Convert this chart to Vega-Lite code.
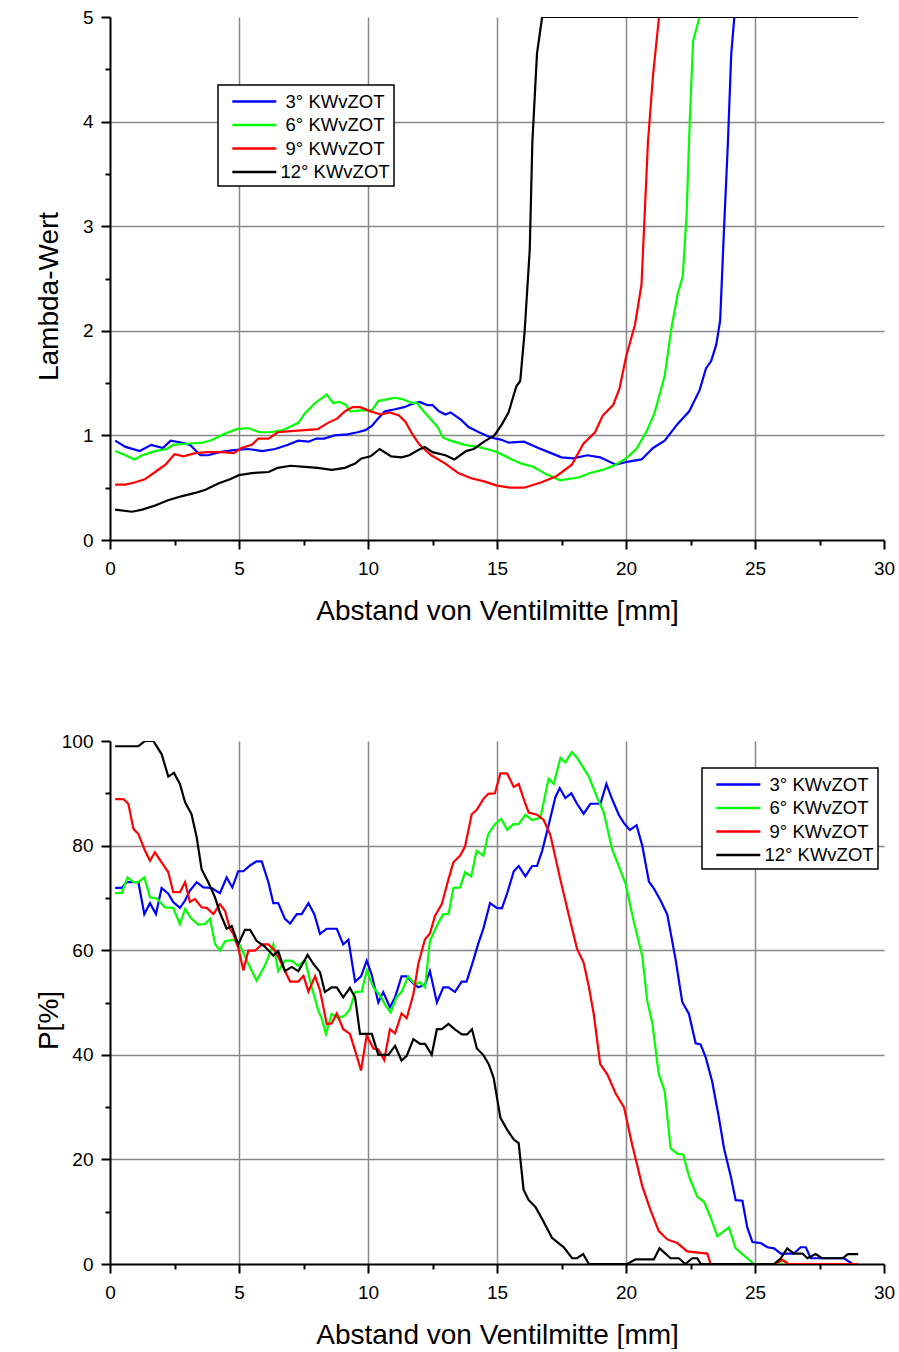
{
"$schema": "https://vega.github.io/schema/vega-lite/v6.json",
"background": "white",
"padding": {"left": 35, "top": 8, "right": 0, "bottom": 0},
"spacing": 107,
"config": {
  "view": {"stroke": null},
  "font": "Liberation Sans",
  "axis": {"domainColor": "black", "domainWidth": 2, "tickColor": "black", "tickWidth": 2, "grid": true, "gridColor": "#888888", "gridWidth": 1.5, "labelFont": "Liberation Sans", "labelFontSize": 19, "labelColor": "black", "titleFont": "Liberation Sans", "titleFontSize": 28, "titleFontWeight": "normal", "titleColor": "black", "labelOverlap": false, "labelFlush": false},
  "axisX": {"labelPadding": 10, "titlePadding": 19},
  "axisY": {"labelPadding": 8},
  "legend": {"orient": "none", "strokeColor": "black", "fillColor": "white", "padding": 4, "rowPadding": 1.5, "labelFont": "Liberation Sans", "labelFontSize": 18.5, "labelColor": "black", "labelAlign": "center", "symbolType": "M-0.2,0H3.8", "symbolSize": 484, "symbolStrokeWidth": 2.5, "labelOffset": 88, "cornerRadius": 0, "strokeWidth": 1.5}
},
"resolve": {"scale": {"color": "independent"}, "legend": {"color": "independent"}},
"datasets": {
"lambda": [
{"s":"3° KWvZOT","x":0.2,"y":0.95},{"s":"3° KWvZOT","x":0.6,"y":0.89},{"s":"3° KWvZOT","x":1.15,"y":0.85},{"s":"3° KWvZOT","x":1.6,"y":0.91},{"s":"3° KWvZOT","x":2.05,"y":0.88},{"s":"3° KWvZOT","x":2.35,"y":0.95},{"s":"3° KWvZOT","x":2.8,"y":0.93},{"s":"3° KWvZOT","x":3.1,"y":0.91},{"s":"3° KWvZOT","x":3.5,"y":0.81},{"s":"3° KWvZOT","x":3.8,"y":0.81},{"s":"3° KWvZOT","x":4.25,"y":0.84},{"s":"3° KWvZOT","x":4.8,"y":0.86},{"s":"3° KWvZOT","x":5.35,"y":0.87},{"s":"3° KWvZOT","x":5.9,"y":0.85},{"s":"3° KWvZOT","x":6.4,"y":0.87},{"s":"3° KWvZOT","x":6.9,"y":0.91},{"s":"3° KWvZOT","x":7.3,"y":0.95},{"s":"3° KWvZOT","x":7.7,"y":0.94},{"s":"3° KWvZOT","x":8.0,"y":0.97},{"s":"3° KWvZOT","x":8.3,"y":0.97},{"s":"3° KWvZOT","x":8.7,"y":1.0},{"s":"3° KWvZOT","x":9.2,"y":1.01},{"s":"3° KWvZOT","x":9.6,"y":1.03},{"s":"3° KWvZOT","x":9.9,"y":1.05},{"s":"3° KWvZOT","x":10.15,"y":1.09},{"s":"3° KWvZOT","x":10.35,"y":1.15},{"s":"3° KWvZOT","x":10.65,"y":1.23},{"s":"3° KWvZOT","x":11.05,"y":1.25},{"s":"3° KWvZOT","x":11.4,"y":1.27},{"s":"3° KWvZOT","x":11.7,"y":1.3},{"s":"3° KWvZOT","x":12.0,"y":1.32},{"s":"3° KWvZOT","x":12.3,"y":1.29},{"s":"3° KWvZOT","x":12.5,"y":1.29},{"s":"3° KWvZOT","x":12.75,"y":1.23},{"s":"3° KWvZOT","x":13.0,"y":1.2},{"s":"3° KWvZOT","x":13.2,"y":1.22},{"s":"3° KWvZOT","x":13.6,"y":1.15},{"s":"3° KWvZOT","x":13.9,"y":1.08},{"s":"3° KWvZOT","x":14.3,"y":1.03},{"s":"3° KWvZOT","x":14.75,"y":0.98},{"s":"3° KWvZOT","x":15.15,"y":0.96},{"s":"3° KWvZOT","x":15.45,"y":0.93},{"s":"3° KWvZOT","x":16.05,"y":0.94},{"s":"3° KWvZOT","x":16.6,"y":0.88},{"s":"3° KWvZOT","x":17.0,"y":0.84},{"s":"3° KWvZOT","x":17.5,"y":0.79},{"s":"3° KWvZOT","x":17.95,"y":0.78},{"s":"3° KWvZOT","x":18.5,"y":0.81},{"s":"3° KWvZOT","x":19.0,"y":0.79},{"s":"3° KWvZOT","x":19.6,"y":0.72},{"s":"3° KWvZOT","x":20.1,"y":0.75},{"s":"3° KWvZOT","x":20.6,"y":0.77},{"s":"3° KWvZOT","x":21.05,"y":0.88},{"s":"3° KWvZOT","x":21.5,"y":0.95},{"s":"3° KWvZOT","x":22.0,"y":1.11},{"s":"3° KWvZOT","x":22.45,"y":1.23},{"s":"3° KWvZOT","x":22.85,"y":1.43},{"s":"3° KWvZOT","x":23.1,"y":1.64},{"s":"3° KWvZOT","x":23.3,"y":1.71},{"s":"3° KWvZOT","x":23.5,"y":1.87},{"s":"3° KWvZOT","x":23.65,"y":2.1},{"s":"3° KWvZOT","x":23.8,"y":2.98},{"s":"3° KWvZOT","x":23.95,"y":3.8},{"s":"3° KWvZOT","x":24.08,"y":4.65},{"s":"3° KWvZOT","x":24.2,"y":5.0},
{"s":"6° KWvZOT","x":0.2,"y":0.85},{"s":"6° KWvZOT","x":0.6,"y":0.81},{"s":"6° KWvZOT","x":0.95,"y":0.77},{"s":"6° KWvZOT","x":1.25,"y":0.81},{"s":"6° KWvZOT","x":1.75,"y":0.85},{"s":"6° KWvZOT","x":2.2,"y":0.87},{"s":"6° KWvZOT","x":2.45,"y":0.91},{"s":"6° KWvZOT","x":2.95,"y":0.92},{"s":"6° KWvZOT","x":3.6,"y":0.93},{"s":"6° KWvZOT","x":4.0,"y":0.96},{"s":"6° KWvZOT","x":4.4,"y":1.01},{"s":"6° KWvZOT","x":4.9,"y":1.06},{"s":"6° KWvZOT","x":5.35,"y":1.07},{"s":"6° KWvZOT","x":5.8,"y":1.03},{"s":"6° KWvZOT","x":6.2,"y":1.03},{"s":"6° KWvZOT","x":6.7,"y":1.05},{"s":"6° KWvZOT","x":7.3,"y":1.12},{"s":"6° KWvZOT","x":7.55,"y":1.21},{"s":"6° KWvZOT","x":7.95,"y":1.31},{"s":"6° KWvZOT","x":8.4,"y":1.39},{"s":"6° KWvZOT","x":8.65,"y":1.31},{"s":"6° KWvZOT","x":8.9,"y":1.32},{"s":"6° KWvZOT","x":9.15,"y":1.29},{"s":"6° KWvZOT","x":9.3,"y":1.23},{"s":"6° KWvZOT","x":9.75,"y":1.24},{"s":"6° KWvZOT","x":10.15,"y":1.24},{"s":"6° KWvZOT","x":10.4,"y":1.33},{"s":"6° KWvZOT","x":10.65,"y":1.34},{"s":"6° KWvZOT","x":11.0,"y":1.36},{"s":"6° KWvZOT","x":11.3,"y":1.35},{"s":"6° KWvZOT","x":11.7,"y":1.31},{"s":"6° KWvZOT","x":11.9,"y":1.31},{"s":"6° KWvZOT","x":12.15,"y":1.23},{"s":"6° KWvZOT","x":12.45,"y":1.15},{"s":"6° KWvZOT","x":12.7,"y":1.08},{"s":"6° KWvZOT","x":12.9,"y":0.98},{"s":"6° KWvZOT","x":13.2,"y":0.95},{"s":"6° KWvZOT","x":13.75,"y":0.91},{"s":"6° KWvZOT","x":14.25,"y":0.89},{"s":"6° KWvZOT","x":14.75,"y":0.86},{"s":"6° KWvZOT","x":15.0,"y":0.84},{"s":"6° KWvZOT","x":15.5,"y":0.78},{"s":"6° KWvZOT","x":15.95,"y":0.73},{"s":"6° KWvZOT","x":16.4,"y":0.7},{"s":"6° KWvZOT","x":16.9,"y":0.63},{"s":"6° KWvZOT","x":17.45,"y":0.57},{"s":"6° KWvZOT","x":18.2,"y":0.6},{"s":"6° KWvZOT","x":18.6,"y":0.64},{"s":"6° KWvZOT","x":19.1,"y":0.67},{"s":"6° KWvZOT","x":19.6,"y":0.72},{"s":"6° KWvZOT","x":20.0,"y":0.78},{"s":"6° KWvZOT","x":20.4,"y":0.87},{"s":"6° KWvZOT","x":20.8,"y":1.04},{"s":"6° KWvZOT","x":21.1,"y":1.21},{"s":"6° KWvZOT","x":21.5,"y":1.57},{"s":"6° KWvZOT","x":21.75,"y":2.01},{"s":"6° KWvZOT","x":22.0,"y":2.35},{"s":"6° KWvZOT","x":22.2,"y":2.52},{"s":"6° KWvZOT","x":22.35,"y":3.12},{"s":"6° KWvZOT","x":22.47,"y":4.0},{"s":"6° KWvZOT","x":22.6,"y":4.77},{"s":"6° KWvZOT","x":22.85,"y":5.0},
{"s":"9° KWvZOT","x":0.2,"y":0.53},{"s":"9° KWvZOT","x":0.6,"y":0.53},{"s":"9° KWvZOT","x":0.95,"y":0.55},{"s":"9° KWvZOT","x":1.35,"y":0.58},{"s":"9° KWvZOT","x":1.75,"y":0.65},{"s":"9° KWvZOT","x":2.15,"y":0.72},{"s":"9° KWvZOT","x":2.5,"y":0.82},{"s":"9° KWvZOT","x":2.85,"y":0.8},{"s":"9° KWvZOT","x":3.3,"y":0.83},{"s":"9° KWvZOT","x":3.8,"y":0.84},{"s":"9° KWvZOT","x":4.35,"y":0.84},{"s":"9° KWvZOT","x":4.8,"y":0.83},{"s":"9° KWvZOT","x":5.1,"y":0.88},{"s":"9° KWvZOT","x":5.5,"y":0.91},{"s":"9° KWvZOT","x":5.75,"y":0.97},{"s":"9° KWvZOT","x":6.15,"y":0.97},{"s":"9° KWvZOT","x":6.5,"y":1.03},{"s":"9° KWvZOT","x":7.0,"y":1.04},{"s":"9° KWvZOT","x":7.55,"y":1.05},{"s":"9° KWvZOT","x":8.05,"y":1.06},{"s":"9° KWvZOT","x":8.45,"y":1.12},{"s":"9° KWvZOT","x":8.8,"y":1.16},{"s":"9° KWvZOT","x":9.1,"y":1.23},{"s":"9° KWvZOT","x":9.4,"y":1.27},{"s":"9° KWvZOT","x":9.7,"y":1.27},{"s":"9° KWvZOT","x":10.1,"y":1.23},{"s":"9° KWvZOT","x":10.5,"y":1.2},{"s":"9° KWvZOT","x":10.85,"y":1.22},{"s":"9° KWvZOT","x":11.2,"y":1.19},{"s":"9° KWvZOT","x":11.45,"y":1.13},{"s":"9° KWvZOT","x":11.7,"y":1.02},{"s":"9° KWvZOT","x":12.0,"y":0.91},{"s":"9° KWvZOT","x":12.45,"y":0.81},{"s":"9° KWvZOT","x":13.0,"y":0.73},{"s":"9° KWvZOT","x":13.5,"y":0.64},{"s":"9° KWvZOT","x":14.0,"y":0.59},{"s":"9° KWvZOT","x":14.5,"y":0.56},{"s":"9° KWvZOT","x":15.0,"y":0.52},{"s":"9° KWvZOT","x":15.5,"y":0.5},{"s":"9° KWvZOT","x":16.05,"y":0.5},{"s":"9° KWvZOT","x":16.7,"y":0.55},{"s":"9° KWvZOT","x":17.3,"y":0.61},{"s":"9° KWvZOT","x":17.9,"y":0.72},{"s":"9° KWvZOT","x":18.35,"y":0.92},{"s":"9° KWvZOT","x":18.8,"y":1.03},{"s":"9° KWvZOT","x":19.1,"y":1.19},{"s":"9° KWvZOT","x":19.5,"y":1.29},{"s":"9° KWvZOT","x":19.75,"y":1.45},{"s":"9° KWvZOT","x":20.0,"y":1.75},{"s":"9° KWvZOT","x":20.35,"y":2.06},{"s":"9° KWvZOT","x":20.6,"y":2.44},{"s":"9° KWvZOT","x":20.7,"y":2.98},{"s":"9° KWvZOT","x":20.85,"y":3.8},{"s":"9° KWvZOT","x":21.05,"y":4.45},{"s":"9° KWvZOT","x":21.28,"y":5.0},
{"s":"12° KWvZOT","x":0.2,"y":0.29},{"s":"12° KWvZOT","x":0.85,"y":0.27},{"s":"12° KWvZOT","x":1.25,"y":0.29},{"s":"12° KWvZOT","x":1.75,"y":0.33},{"s":"12° KWvZOT","x":2.25,"y":0.38},{"s":"12° KWvZOT","x":2.8,"y":0.42},{"s":"12° KWvZOT","x":3.3,"y":0.45},{"s":"12° KWvZOT","x":3.7,"y":0.48},{"s":"12° KWvZOT","x":4.2,"y":0.54},{"s":"12° KWvZOT","x":4.65,"y":0.58},{"s":"12° KWvZOT","x":5.0,"y":0.62},{"s":"12° KWvZOT","x":5.5,"y":0.64},{"s":"12° KWvZOT","x":6.15,"y":0.65},{"s":"12° KWvZOT","x":6.5,"y":0.69},{"s":"12° KWvZOT","x":7.0,"y":0.71},{"s":"12° KWvZOT","x":7.55,"y":0.7},{"s":"12° KWvZOT","x":8.05,"y":0.69},{"s":"12° KWvZOT","x":8.6,"y":0.67},{"s":"12° KWvZOT","x":9.1,"y":0.69},{"s":"12° KWvZOT","x":9.5,"y":0.73},{"s":"12° KWvZOT","x":9.75,"y":0.78},{"s":"12° KWvZOT","x":10.1,"y":0.8},{"s":"12° KWvZOT","x":10.45,"y":0.87},{"s":"12° KWvZOT","x":10.9,"y":0.8},{"s":"12° KWvZOT","x":11.3,"y":0.79},{"s":"12° KWvZOT","x":11.6,"y":0.81},{"s":"12° KWvZOT","x":11.95,"y":0.86},{"s":"12° KWvZOT","x":12.2,"y":0.89},{"s":"12° KWvZOT","x":12.5,"y":0.84},{"s":"12° KWvZOT","x":13.0,"y":0.81},{"s":"12° KWvZOT","x":13.35,"y":0.77},{"s":"12° KWvZOT","x":13.8,"y":0.85},{"s":"12° KWvZOT","x":14.1,"y":0.87},{"s":"12° KWvZOT","x":14.5,"y":0.94},{"s":"12° KWvZOT","x":14.9,"y":1.0},{"s":"12° KWvZOT","x":15.2,"y":1.11},{"s":"12° KWvZOT","x":15.45,"y":1.22},{"s":"12° KWvZOT","x":15.75,"y":1.47},{"s":"12° KWvZOT","x":15.9,"y":1.52},{"s":"12° KWvZOT","x":16.07,"y":1.99},{"s":"12° KWvZOT","x":16.27,"y":2.78},{"s":"12° KWvZOT","x":16.37,"y":3.8},{"s":"12° KWvZOT","x":16.55,"y":4.65},{"s":"12° KWvZOT","x":16.75,"y":5.0},{"s":"12° KWvZOT","x":29.0,"y":5.0}
],
"p": [
{"s":"3° KWvZOT","x":0.2,"y":71.9},{"s":"3° KWvZOT","x":0.45,"y":71.9},{"s":"3° KWvZOT","x":0.65,"y":73.0},{"s":"3° KWvZOT","x":1.1,"y":73.0},{"s":"3° KWvZOT","x":1.33,"y":66.9},{"s":"3° KWvZOT","x":1.55,"y":69.0},{"s":"3° KWvZOT","x":1.78,"y":66.9},{"s":"3° KWvZOT","x":2.0,"y":71.9},{"s":"3° KWvZOT","x":2.26,"y":70.8},{"s":"3° KWvZOT","x":2.45,"y":69.2},{"s":"3° KWvZOT","x":2.71,"y":68.1},{"s":"3° KWvZOT","x":2.91,"y":69.5},{"s":"3° KWvZOT","x":3.1,"y":71.4},{"s":"3° KWvZOT","x":3.36,"y":73.0},{"s":"3° KWvZOT","x":3.62,"y":72.0},{"s":"3° KWvZOT","x":3.94,"y":71.9},{"s":"3° KWvZOT","x":4.26,"y":70.9},{"s":"3° KWvZOT","x":4.52,"y":73.9},{"s":"3° KWvZOT","x":4.74,"y":72.0},{"s":"3° KWvZOT","x":4.97,"y":75.1},{"s":"3° KWvZOT","x":5.17,"y":75.1},{"s":"3° KWvZOT","x":5.43,"y":76.2},{"s":"3° KWvZOT","x":5.68,"y":77.0},{"s":"3° KWvZOT","x":5.88,"y":77.0},{"s":"3° KWvZOT","x":6.14,"y":73.0},{"s":"3° KWvZOT","x":6.33,"y":69.0},{"s":"3° KWvZOT","x":6.52,"y":69.0},{"s":"3° KWvZOT","x":6.78,"y":66.0},{"s":"3° KWvZOT","x":6.98,"y":65.1},{"s":"3° KWvZOT","x":7.24,"y":66.9},{"s":"3° KWvZOT","x":7.43,"y":66.9},{"s":"3° KWvZOT","x":7.69,"y":69.0},{"s":"3° KWvZOT","x":7.92,"y":66.9},{"s":"3° KWvZOT","x":8.14,"y":63.1},{"s":"3° KWvZOT","x":8.4,"y":64.1},{"s":"3° KWvZOT","x":8.79,"y":64.1},{"s":"3° KWvZOT","x":9.04,"y":61.1},{"s":"3° KWvZOT","x":9.24,"y":62.0},{"s":"3° KWvZOT","x":9.5,"y":54.0},{"s":"3° KWvZOT","x":9.73,"y":55.0},{"s":"3° KWvZOT","x":9.95,"y":58.0},{"s":"3° KWvZOT","x":10.14,"y":55.4},{"s":"3° KWvZOT","x":10.4,"y":50.0},{"s":"3° KWvZOT","x":10.59,"y":52.0},{"s":"3° KWvZOT","x":10.85,"y":49.1},{"s":"3° KWvZOT","x":11.05,"y":51.0},{"s":"3° KWvZOT","x":11.3,"y":55.0},{"s":"3° KWvZOT","x":11.5,"y":55.0},{"s":"3° KWvZOT","x":11.76,"y":53.6},{"s":"3° KWvZOT","x":11.95,"y":52.9},{"s":"3° KWvZOT","x":12.21,"y":53.4},{"s":"3° KWvZOT","x":12.4,"y":56.0},{"s":"3° KWvZOT","x":12.67,"y":50.0},{"s":"3° KWvZOT","x":12.92,"y":52.9},{"s":"3° KWvZOT","x":13.12,"y":52.9},{"s":"3° KWvZOT","x":13.37,"y":52.0},{"s":"3° KWvZOT","x":13.63,"y":54.0},{"s":"3° KWvZOT","x":13.82,"y":54.0},{"s":"3° KWvZOT","x":14.08,"y":58.0},{"s":"3° KWvZOT","x":14.27,"y":61.2},{"s":"3° KWvZOT","x":14.47,"y":64.1},{"s":"3° KWvZOT","x":14.73,"y":69.0},{"s":"3° KWvZOT","x":14.99,"y":68.1},{"s":"3° KWvZOT","x":15.19,"y":68.0},{"s":"3° KWvZOT","x":15.39,"y":70.8},{"s":"3° KWvZOT","x":15.65,"y":75.1},{"s":"3° KWvZOT","x":15.84,"y":76.1},{"s":"3° KWvZOT","x":16.1,"y":74.1},{"s":"3° KWvZOT","x":16.36,"y":76.1},{"s":"3° KWvZOT","x":16.55,"y":76.1},{"s":"3° KWvZOT","x":16.75,"y":79.0},{"s":"3° KWvZOT","x":17.0,"y":83.9},{"s":"3° KWvZOT","x":17.26,"y":89.2},{"s":"3° KWvZOT","x":17.43,"y":91.0},{"s":"3° KWvZOT","x":17.65,"y":89.1},{"s":"3° KWvZOT","x":17.88,"y":90.0},{"s":"3° KWvZOT","x":18.1,"y":88.0},{"s":"3° KWvZOT","x":18.36,"y":86.1},{"s":"3° KWvZOT","x":18.62,"y":88.0},{"s":"3° KWvZOT","x":19.01,"y":88.0},{"s":"3° KWvZOT","x":19.24,"y":91.8},{"s":"3° KWvZOT","x":19.46,"y":88.9},{"s":"3° KWvZOT","x":19.72,"y":85.9},{"s":"3° KWvZOT","x":19.92,"y":84.3},{"s":"3° KWvZOT","x":20.15,"y":83.0},{"s":"3° KWvZOT","x":20.41,"y":83.9},{"s":"3° KWvZOT","x":20.63,"y":80.0},{"s":"3° KWvZOT","x":20.89,"y":73.1},{"s":"3° KWvZOT","x":21.08,"y":71.8},{"s":"3° KWvZOT","x":21.34,"y":69.5},{"s":"3° KWvZOT","x":21.6,"y":66.8},{"s":"3° KWvZOT","x":21.92,"y":58.3},{"s":"3° KWvZOT","x":22.18,"y":50.1},{"s":"3° KWvZOT","x":22.44,"y":47.8},{"s":"3° KWvZOT","x":22.7,"y":42.2},{"s":"3° KWvZOT","x":22.89,"y":42.0},{"s":"3° KWvZOT","x":23.09,"y":39.5},{"s":"3° KWvZOT","x":23.34,"y":34.9},{"s":"3° KWvZOT","x":23.6,"y":28.0},{"s":"3° KWvZOT","x":23.8,"y":22.1},{"s":"3° KWvZOT","x":24.06,"y":16.8},{"s":"3° KWvZOT","x":24.25,"y":12.2},{"s":"3° KWvZOT","x":24.51,"y":12.1},{"s":"3° KWvZOT","x":24.7,"y":7.0},{"s":"3° KWvZOT","x":24.9,"y":4.2},{"s":"3° KWvZOT","x":25.22,"y":4.0},{"s":"3° KWvZOT","x":25.48,"y":3.2},{"s":"3° KWvZOT","x":25.74,"y":3.0},{"s":"3° KWvZOT","x":26.0,"y":2.0},{"s":"3° KWvZOT","x":26.5,"y":2.0},{"s":"3° KWvZOT","x":26.77,"y":3.2},{"s":"3° KWvZOT","x":26.97,"y":3.2},{"s":"3° KWvZOT","x":27.16,"y":1.1},{"s":"3° KWvZOT","x":28.45,"y":1.1},{"s":"3° KWvZOT","x":28.78,"y":0},
{"s":"6° KWvZOT","x":0.2,"y":70.9},{"s":"6° KWvZOT","x":0.45,"y":70.9},{"s":"6° KWvZOT","x":0.68,"y":73.9},{"s":"6° KWvZOT","x":0.91,"y":73.0},{"s":"6° KWvZOT","x":1.1,"y":73.0},{"s":"6° KWvZOT","x":1.33,"y":73.9},{"s":"6° KWvZOT","x":1.55,"y":70.1},{"s":"6° KWvZOT","x":1.81,"y":69.9},{"s":"6° KWvZOT","x":2.13,"y":68.2},{"s":"6° KWvZOT","x":2.45,"y":68.1},{"s":"6° KWvZOT","x":2.71,"y":65.0},{"s":"6° KWvZOT","x":2.91,"y":67.9},{"s":"6° KWvZOT","x":3.16,"y":66.0},{"s":"6° KWvZOT","x":3.42,"y":64.9},{"s":"6° KWvZOT","x":3.68,"y":65.0},{"s":"6° KWvZOT","x":3.88,"y":66.0},{"s":"6° KWvZOT","x":4.07,"y":61.2},{"s":"6° KWvZOT","x":4.26,"y":59.9},{"s":"6° KWvZOT","x":4.46,"y":61.7},{"s":"6° KWvZOT","x":4.78,"y":62.0},{"s":"6° KWvZOT","x":5.04,"y":60.9},{"s":"6° KWvZOT","x":5.36,"y":57.4},{"s":"6° KWvZOT","x":5.68,"y":54.2},{"s":"6° KWvZOT","x":6.0,"y":57.0},{"s":"6° KWvZOT","x":6.33,"y":61.1},{"s":"6° KWvZOT","x":6.52,"y":56.0},{"s":"6° KWvZOT","x":6.78,"y":58.0},{"s":"6° KWvZOT","x":7.04,"y":58.0},{"s":"6° KWvZOT","x":7.3,"y":57.0},{"s":"6° KWvZOT","x":7.56,"y":58.1},{"s":"6° KWvZOT","x":7.82,"y":52.9},{"s":"6° KWvZOT","x":8.07,"y":48.5},{"s":"6° KWvZOT","x":8.2,"y":47.0},{"s":"6° KWvZOT","x":8.37,"y":44.0},{"s":"6° KWvZOT","x":8.59,"y":47.8},{"s":"6° KWvZOT","x":8.85,"y":47.0},{"s":"6° KWvZOT","x":9.1,"y":47.5},{"s":"6° KWvZOT","x":9.3,"y":48.7},{"s":"6° KWvZOT","x":9.5,"y":52.0},{"s":"6° KWvZOT","x":9.76,"y":52.1},{"s":"6° KWvZOT","x":9.95,"y":56.1},{"s":"6° KWvZOT","x":10.21,"y":52.9},{"s":"6° KWvZOT","x":10.47,"y":51.3},{"s":"6° KWvZOT","x":10.66,"y":49.6},{"s":"6° KWvZOT","x":10.88,"y":48.1},{"s":"6° KWvZOT","x":11.1,"y":51.0},{"s":"6° KWvZOT","x":11.3,"y":52.0},{"s":"6° KWvZOT","x":11.56,"y":55.0},{"s":"6° KWvZOT","x":11.82,"y":53.4},{"s":"6° KWvZOT","x":12.01,"y":53.9},{"s":"6° KWvZOT","x":12.21,"y":52.9},{"s":"6° KWvZOT","x":12.4,"y":61.8},{"s":"6° KWvZOT","x":12.73,"y":65.3},{"s":"6° KWvZOT","x":12.92,"y":66.9},{"s":"6° KWvZOT","x":13.12,"y":66.9},{"s":"6° KWvZOT","x":13.31,"y":71.9},{"s":"6° KWvZOT","x":13.57,"y":72.0},{"s":"6° KWvZOT","x":13.76,"y":74.9},{"s":"6° KWvZOT","x":14.0,"y":74.1},{"s":"6° KWvZOT","x":14.21,"y":79.0},{"s":"6° KWvZOT","x":14.47,"y":78.1},{"s":"6° KWvZOT","x":14.66,"y":82.2},{"s":"6° KWvZOT","x":14.92,"y":84.1},{"s":"6° KWvZOT","x":15.17,"y":85.1},{"s":"6° KWvZOT","x":15.4,"y":83.0},{"s":"6° KWvZOT","x":15.63,"y":84.1},{"s":"6° KWvZOT","x":15.84,"y":84.1},{"s":"6° KWvZOT","x":16.1,"y":85.9},{"s":"6° KWvZOT","x":16.36,"y":84.9},{"s":"6° KWvZOT","x":16.68,"y":85.3},{"s":"6° KWvZOT","x":17.0,"y":92.8},{"s":"6° KWvZOT","x":17.2,"y":91.8},{"s":"6° KWvZOT","x":17.46,"y":96.8},{"s":"6° KWvZOT","x":17.65,"y":95.9},{"s":"6° KWvZOT","x":17.9,"y":97.9},{"s":"6° KWvZOT","x":18.1,"y":96.8},{"s":"6° KWvZOT","x":18.56,"y":93.2},{"s":"6° KWvZOT","x":18.88,"y":89.2},{"s":"6° KWvZOT","x":19.14,"y":86.3},{"s":"6° KWvZOT","x":19.46,"y":79.3},{"s":"6° KWvZOT","x":19.98,"y":72.8},{"s":"6° KWvZOT","x":20.3,"y":65.5},{"s":"6° KWvZOT","x":20.63,"y":58.9},{"s":"6° KWvZOT","x":20.82,"y":50.4},{"s":"6° KWvZOT","x":21.02,"y":46.1},{"s":"6° KWvZOT","x":21.27,"y":36.3},{"s":"6° KWvZOT","x":21.5,"y":33.0},{"s":"6° KWvZOT","x":21.73,"y":22.1},{"s":"6° KWvZOT","x":21.99,"y":21.1},{"s":"6° KWvZOT","x":22.22,"y":20.9},{"s":"6° KWvZOT","x":22.44,"y":16.8},{"s":"6° KWvZOT","x":22.76,"y":12.9},{"s":"6° KWvZOT","x":23.02,"y":11.9},{"s":"6° KWvZOT","x":23.28,"y":8.9},{"s":"6° KWvZOT","x":23.54,"y":5.3},{"s":"6° KWvZOT","x":23.99,"y":7.0},{"s":"6° KWvZOT","x":24.25,"y":3.0},{"s":"6° KWvZOT","x":24.96,"y":0},{"s":"6° KWvZOT","x":25.9,"y":0},{"s":"6° KWvZOT","x":26.1,"y":0.8},{"s":"6° KWvZOT","x":26.3,"y":0},
{"s":"9° KWvZOT","x":0.2,"y":88.9},{"s":"9° KWvZOT","x":0.52,"y":88.9},{"s":"9° KWvZOT","x":0.71,"y":88.0},{"s":"9° KWvZOT","x":0.91,"y":83.2},{"s":"9° KWvZOT","x":1.1,"y":82.2},{"s":"9° KWvZOT","x":1.36,"y":79.0},{"s":"9° KWvZOT","x":1.55,"y":77.1},{"s":"9° KWvZOT","x":1.74,"y":78.7},{"s":"9° KWvZOT","x":2.0,"y":76.8},{"s":"9° KWvZOT","x":2.26,"y":74.9},{"s":"9° KWvZOT","x":2.45,"y":71.1},{"s":"9° KWvZOT","x":2.71,"y":71.1},{"s":"9° KWvZOT","x":2.91,"y":73.0},{"s":"9° KWvZOT","x":3.1,"y":69.2},{"s":"9° KWvZOT","x":3.29,"y":69.8},{"s":"9° KWvZOT","x":3.55,"y":68.2},{"s":"9° KWvZOT","x":3.75,"y":68.1},{"s":"9° KWvZOT","x":4.01,"y":66.9},{"s":"9° KWvZOT","x":4.26,"y":68.8},{"s":"9° KWvZOT","x":4.46,"y":67.5},{"s":"9° KWvZOT","x":4.65,"y":64.1},{"s":"9° KWvZOT","x":4.78,"y":63.1},{"s":"9° KWvZOT","x":4.97,"y":60.5},{"s":"9° KWvZOT","x":5.17,"y":56.1},{"s":"9° KWvZOT","x":5.36,"y":59.9},{"s":"9° KWvZOT","x":5.62,"y":59.9},{"s":"9° KWvZOT","x":5.88,"y":61.1},{"s":"9° KWvZOT","x":6.14,"y":61.1},{"s":"9° KWvZOT","x":6.4,"y":59.9},{"s":"9° KWvZOT","x":6.65,"y":57.4},{"s":"9° KWvZOT","x":6.98,"y":54.0},{"s":"9° KWvZOT","x":7.3,"y":54.0},{"s":"9° KWvZOT","x":7.5,"y":55.1},{"s":"9° KWvZOT","x":7.69,"y":52.1},{"s":"9° KWvZOT","x":7.95,"y":55.0},{"s":"9° KWvZOT","x":8.14,"y":52.3},{"s":"9° KWvZOT","x":8.4,"y":45.9},{"s":"9° KWvZOT","x":8.59,"y":46.0},{"s":"9° KWvZOT","x":8.79,"y":47.9},{"s":"9° KWvZOT","x":9.04,"y":44.9},{"s":"9° KWvZOT","x":9.3,"y":44.0},{"s":"9° KWvZOT","x":9.5,"y":40.8},{"s":"9° KWvZOT","x":9.73,"y":37.0},{"s":"9° KWvZOT","x":9.95,"y":43.7},{"s":"9° KWvZOT","x":10.21,"y":41.2},{"s":"9° KWvZOT","x":10.4,"y":41.0},{"s":"9° KWvZOT","x":10.63,"y":39.0},{"s":"9° KWvZOT","x":10.85,"y":44.9},{"s":"9° KWvZOT","x":11.05,"y":44.1},{"s":"9° KWvZOT","x":11.3,"y":47.9},{"s":"9° KWvZOT","x":11.5,"y":47.0},{"s":"9° KWvZOT","x":11.76,"y":51.6},{"s":"9° KWvZOT","x":11.95,"y":57.4},{"s":"9° KWvZOT","x":12.21,"y":62.1},{"s":"9° KWvZOT","x":12.4,"y":63.2},{"s":"9° KWvZOT","x":12.6,"y":66.6},{"s":"9° KWvZOT","x":12.86,"y":68.8},{"s":"9° KWvZOT","x":13.12,"y":73.6},{"s":"9° KWvZOT","x":13.31,"y":76.8},{"s":"9° KWvZOT","x":13.57,"y":78.1},{"s":"9° KWvZOT","x":13.76,"y":79.8},{"s":"9° KWvZOT","x":14.02,"y":86.0},{"s":"9° KWvZOT","x":14.21,"y":86.8},{"s":"9° KWvZOT","x":14.47,"y":88.9},{"s":"9° KWvZOT","x":14.66,"y":89.9},{"s":"9° KWvZOT","x":14.92,"y":90.0},{"s":"9° KWvZOT","x":15.13,"y":93.8},{"s":"9° KWvZOT","x":15.39,"y":93.8},{"s":"9° KWvZOT","x":15.65,"y":91.2},{"s":"9° KWvZOT","x":15.84,"y":91.8},{"s":"9° KWvZOT","x":16.1,"y":88.0},{"s":"9° KWvZOT","x":16.23,"y":86.3},{"s":"9° KWvZOT","x":16.55,"y":85.9},{"s":"9° KWvZOT","x":16.81,"y":84.9},{"s":"9° KWvZOT","x":17.07,"y":82.0},{"s":"9° KWvZOT","x":17.46,"y":73.4},{"s":"9° KWvZOT","x":17.78,"y":66.8},{"s":"9° KWvZOT","x":18.1,"y":60.3},{"s":"9° KWvZOT","x":18.36,"y":57.6},{"s":"9° KWvZOT","x":18.56,"y":53.0},{"s":"9° KWvZOT","x":18.75,"y":47.8},{"s":"9° KWvZOT","x":19.0,"y":38.2},{"s":"9° KWvZOT","x":19.27,"y":36.3},{"s":"9° KWvZOT","x":19.6,"y":32.6},{"s":"9° KWvZOT","x":19.92,"y":30.0},{"s":"9° KWvZOT","x":20.24,"y":22.8},{"s":"9° KWvZOT","x":20.63,"y":14.9},{"s":"9° KWvZOT","x":20.95,"y":10.3},{"s":"9° KWvZOT","x":21.27,"y":6.3},{"s":"9° KWvZOT","x":21.6,"y":4.7},{"s":"9° KWvZOT","x":21.99,"y":4.0},{"s":"9° KWvZOT","x":22.37,"y":2.4},{"s":"9° KWvZOT","x":23.15,"y":2.0},{"s":"9° KWvZOT","x":23.28,"y":0},{"s":"9° KWvZOT","x":25.8,"y":0},{"s":"9° KWvZOT","x":26.05,"y":0.8},{"s":"9° KWvZOT","x":26.3,"y":0},{"s":"9° KWvZOT","x":29.0,"y":0},
{"s":"12° KWvZOT","x":0.2,"y":99.0},{"s":"12° KWvZOT","x":1.1,"y":99.0},{"s":"12° KWvZOT","x":1.36,"y":100.0},{"s":"12° KWvZOT","x":1.68,"y":100.0},{"s":"12° KWvZOT","x":2.0,"y":97.5},{"s":"12° KWvZOT","x":2.26,"y":93.2},{"s":"12° KWvZOT","x":2.48,"y":93.9},{"s":"12° KWvZOT","x":2.71,"y":91.8},{"s":"12° KWvZOT","x":2.91,"y":88.3},{"s":"12° KWvZOT","x":3.16,"y":86.0},{"s":"12° KWvZOT","x":3.36,"y":81.6},{"s":"12° KWvZOT","x":3.55,"y":75.5},{"s":"12° KWvZOT","x":3.81,"y":73.0},{"s":"12° KWvZOT","x":4.07,"y":70.1},{"s":"12° KWvZOT","x":4.26,"y":67.2},{"s":"12° KWvZOT","x":4.52,"y":64.1},{"s":"12° KWvZOT","x":4.72,"y":64.6},{"s":"12° KWvZOT","x":4.97,"y":61.1},{"s":"12° KWvZOT","x":5.23,"y":63.9},{"s":"12° KWvZOT","x":5.43,"y":63.9},{"s":"12° KWvZOT","x":5.68,"y":61.8},{"s":"12° KWvZOT","x":6.0,"y":60.7},{"s":"12° KWvZOT","x":6.33,"y":59.0},{"s":"12° KWvZOT","x":6.52,"y":59.8},{"s":"12° KWvZOT","x":6.78,"y":56.0},{"s":"12° KWvZOT","x":7.04,"y":56.8},{"s":"12° KWvZOT","x":7.3,"y":56.0},{"s":"12° KWvZOT","x":7.66,"y":59.1},{"s":"12° KWvZOT","x":7.88,"y":57.4},{"s":"12° KWvZOT","x":8.14,"y":55.8},{"s":"12° KWvZOT","x":8.33,"y":52.0},{"s":"12° KWvZOT","x":8.59,"y":52.9},{"s":"12° KWvZOT","x":8.79,"y":52.9},{"s":"12° KWvZOT","x":9.04,"y":51.0},{"s":"12° KWvZOT","x":9.3,"y":52.8},{"s":"12° KWvZOT","x":9.5,"y":51.0},{"s":"12° KWvZOT","x":9.69,"y":44.0},{"s":"12° KWvZOT","x":10.15,"y":44.0},{"s":"12° KWvZOT","x":10.4,"y":40.0},{"s":"12° KWvZOT","x":10.79,"y":40.0},{"s":"12° KWvZOT","x":11.05,"y":41.7},{"s":"12° KWvZOT","x":11.3,"y":38.9},{"s":"12° KWvZOT","x":11.5,"y":39.8},{"s":"12° KWvZOT","x":11.76,"y":43.0},{"s":"12° KWvZOT","x":12.02,"y":42.1},{"s":"12° KWvZOT","x":12.21,"y":42.1},{"s":"12° KWvZOT","x":12.47,"y":40.0},{"s":"12° KWvZOT","x":12.67,"y":44.9},{"s":"12° KWvZOT","x":12.86,"y":44.9},{"s":"12° KWvZOT","x":13.12,"y":45.9},{"s":"12° KWvZOT","x":13.38,"y":44.8},{"s":"12° KWvZOT","x":13.64,"y":43.9},{"s":"12° KWvZOT","x":13.84,"y":43.9},{"s":"12° KWvZOT","x":14.03,"y":44.9},{"s":"12° KWvZOT","x":14.22,"y":41.2},{"s":"12° KWvZOT","x":14.48,"y":39.9},{"s":"12° KWvZOT","x":14.68,"y":38.2},{"s":"12° KWvZOT","x":14.87,"y":35.6},{"s":"12° KWvZOT","x":15.13,"y":28.0},{"s":"12° KWvZOT","x":15.39,"y":25.7},{"s":"12° KWvZOT","x":15.65,"y":23.8},{"s":"12° KWvZOT","x":15.84,"y":23.1},{"s":"12° KWvZOT","x":16.03,"y":14.2},{"s":"12° KWvZOT","x":16.23,"y":12.2},{"s":"12° KWvZOT","x":16.49,"y":10.9},{"s":"12° KWvZOT","x":16.75,"y":8.6},{"s":"12° KWvZOT","x":17.13,"y":5.0},{"s":"12° KWvZOT","x":17.59,"y":3.2},{"s":"12° KWvZOT","x":17.91,"y":1.1},{"s":"12° KWvZOT","x":18.1,"y":1.1},{"s":"12° KWvZOT","x":18.34,"y":1.9},{"s":"12° KWvZOT","x":18.56,"y":0},{"s":"12° KWvZOT","x":20.05,"y":0},{"s":"12° KWvZOT","x":20.37,"y":0.9},{"s":"12° KWvZOT","x":21.08,"y":0.9},{"s":"12° KWvZOT","x":21.3,"y":3.0},{"s":"12° KWvZOT","x":21.73,"y":1.1},{"s":"12° KWvZOT","x":22.05,"y":1.1},{"s":"12° KWvZOT","x":22.3,"y":0},{"s":"12° KWvZOT","x":22.57,"y":1.1},{"s":"12° KWvZOT","x":22.76,"y":1.1},{"s":"12° KWvZOT","x":22.9,"y":0},{"s":"12° KWvZOT","x":25.74,"y":0},{"s":"12° KWvZOT","x":26.0,"y":1.1},{"s":"12° KWvZOT","x":26.25,"y":3.0},{"s":"12° KWvZOT","x":26.5,"y":2.0},{"s":"12° KWvZOT","x":26.84,"y":2.0},{"s":"12° KWvZOT","x":27.03,"y":1.1},{"s":"12° KWvZOT","x":27.35,"y":1.9},{"s":"12° KWvZOT","x":27.6,"y":1.1},{"s":"12° KWvZOT","x":28.4,"y":1.1},{"s":"12° KWvZOT","x":28.6,"y":1.9},{"s":"12° KWvZOT","x":29.0,"y":1.9}
]
},
"vconcat": [
{
  "width": 774, "height": 523,
  "data": {"name": "lambda"},
  "mark": {"type": "line", "strokeWidth": 2.2, "clip": true},
  "encoding": {
    "x": {"field": "x", "type": "quantitative", "title": "Abstand von Ventilmitte [mm]",
      "scale": {"domain": [0, 30], "nice": false},
      "axis": {"values": [0,2.5,5,7.5,10,12.5,15,17.5,20,22.5,25,27.5,30],
        "labelExpr": "datum.value % 5 === 0 ? '' + datum.value : ''",
        "tickSize": {"condition": {"test": "datum.value % 5 === 0", "value": 9}, "value": 5},
        "gridOpacity": {"condition": {"test": "datum.value % 5 === 0 && datum.value > 0 && datum.value < 30", "value": 1}, "value": 0}}},
    "y": {"field": "y", "type": "quantitative", "title": "Lambda-Wert",
      "scale": {"domain": [0, 5], "nice": false},
      "axis": {"values": [0,0.5,1,1.5,2,2.5,3,3.5,4,4.5,5],
        "labelExpr": "datum.value % 1 === 0 ? '' + datum.value : ''",
        "tickSize": {"condition": {"test": "datum.value % 1 === 0", "value": 9}, "value": 5},
        "gridOpacity": {"condition": {"test": "datum.value % 1 === 0 && datum.value > 0 && datum.value < 5", "value": 1}, "value": 0},
        "titleX": -47, "titleY": 279}},
    "color": {"field": "s", "type": "nominal",
      "scale": {"domain": ["3° KWvZOT","6° KWvZOT","9° KWvZOT","12° KWvZOT"], "range": ["#0000ff","#00ff00","#ff0000","#000000"]},
      "legend": {"title": null, "legendX": 108, "legendY": 68}}
  }
},
{
  "width": 774, "height": 523,
  "data": {"name": "p"},
  "mark": {"type": "line", "strokeWidth": 2.2, "clip": true},
  "encoding": {
    "x": {"field": "x", "type": "quantitative", "title": "Abstand von Ventilmitte [mm]",
      "scale": {"domain": [0, 30], "nice": false},
      "axis": {"values": [0,2.5,5,7.5,10,12.5,15,17.5,20,22.5,25,27.5,30],
        "labelExpr": "datum.value % 5 === 0 ? '' + datum.value : ''",
        "tickSize": {"condition": {"test": "datum.value % 5 === 0", "value": 9}, "value": 5},
        "gridOpacity": {"condition": {"test": "datum.value % 5 === 0 && datum.value > 0 && datum.value < 30", "value": 1}, "value": 0}}},
    "y": {"field": "y", "type": "quantitative", "title": "P[%]",
      "scale": {"domain": [0, 100], "nice": false},
      "axis": {"values": [0,10,20,30,40,50,60,70,80,90,100],
        "labelExpr": "datum.value % 20 === 0 ? '' + datum.value : ''",
        "tickSize": {"condition": {"test": "datum.value % 20 === 0", "value": 9}, "value": 5},
        "gridOpacity": {"condition": {"test": "datum.value % 20 === 0 && datum.value > 0 && datum.value < 100", "value": 1}, "value": 0},
        "titleX": -47, "titleY": 279}},
    "color": {"field": "s", "type": "nominal",
      "scale": {"domain": ["3° KWvZOT","6° KWvZOT","9° KWvZOT","12° KWvZOT"], "range": ["#0000ff","#00ff00","#ff0000","#000000"]},
      "legend": {"title": null, "legendX": 592, "legendY": 27}}
  }
}
]
}
